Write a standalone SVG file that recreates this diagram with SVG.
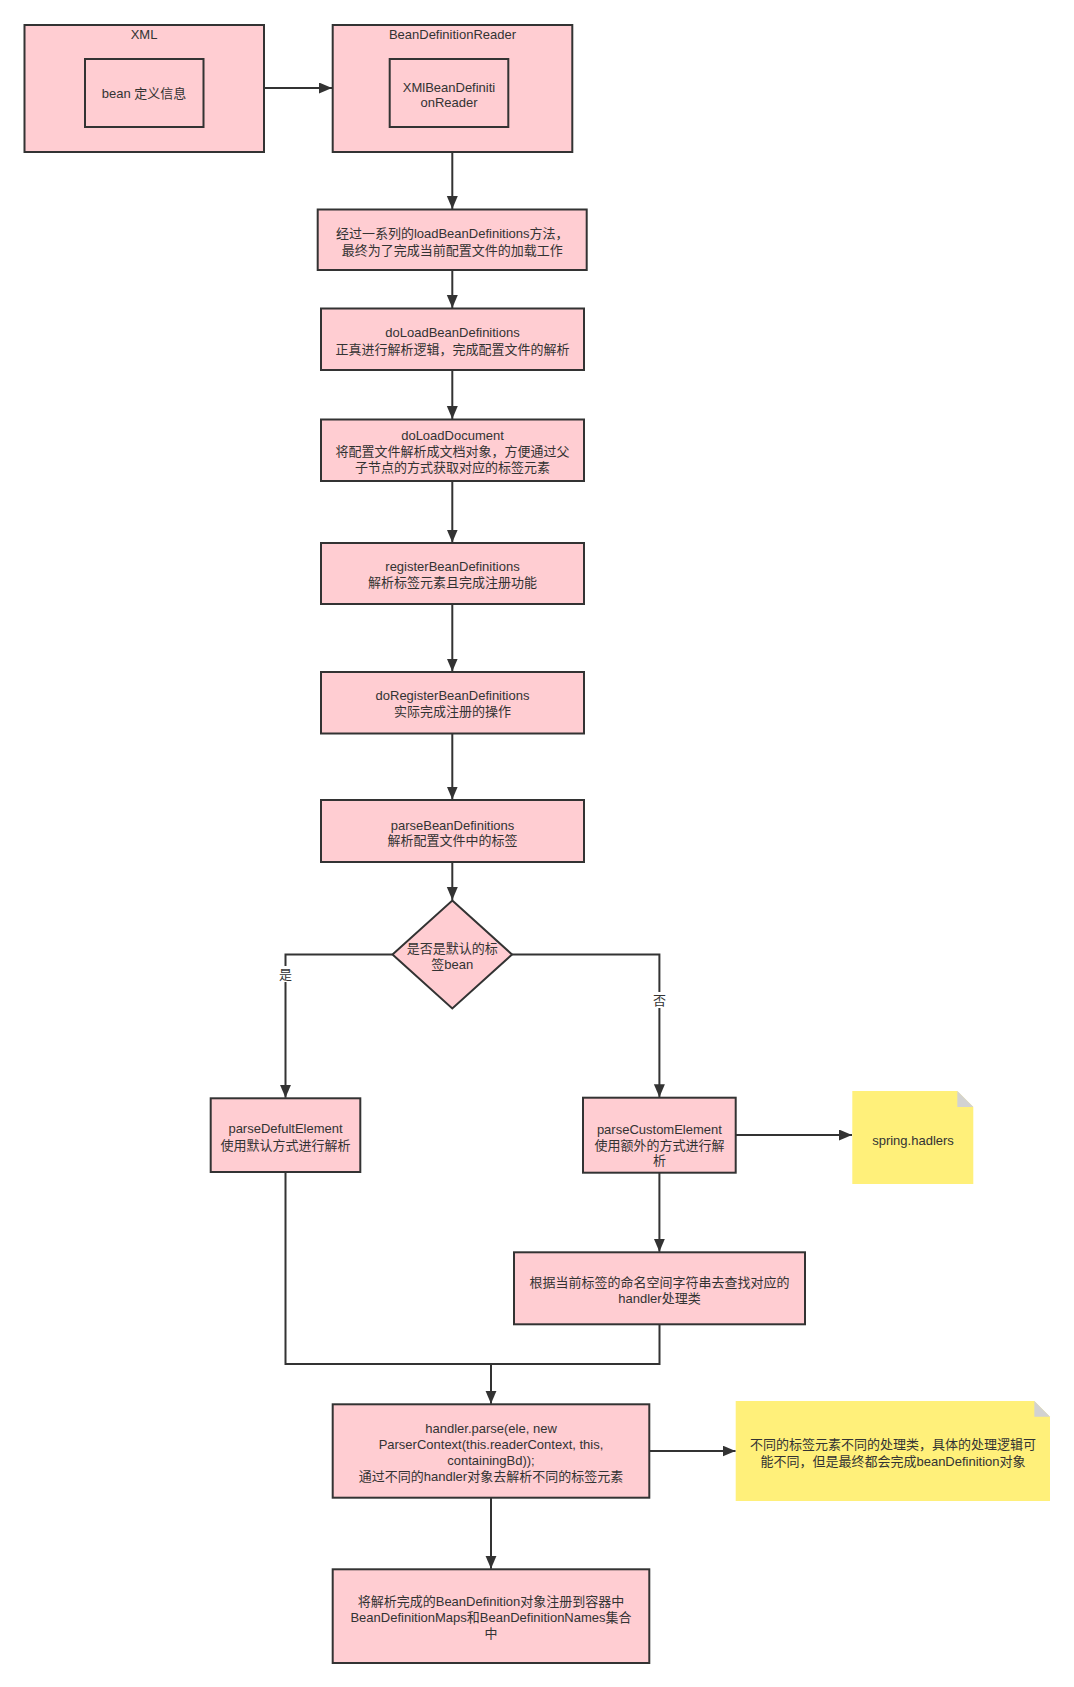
<svg xmlns="http://www.w3.org/2000/svg" width="1074" height="1687" viewBox="0 0 1074 1687">
<style>
.box{fill:#ffcdd2;stroke:#333;stroke-width:2}
.note{fill:#fff07a;stroke:none}
.fold{fill:#d2d2d2;stroke:none}
.t{font-family:"Liberation Sans","Noto Sans CJK SC",sans-serif;font-size:13px;fill:#333;text-anchor:middle}
.ln{fill:none;stroke:#333;stroke-width:2}
.lbl{fill:#fff}
</style>
<defs>
<marker id="ah" markerUnits="userSpaceOnUse" markerWidth="14" markerHeight="12" refX="13" refY="5.5" orient="auto">
<path d="M0,0 L13,5.5 L0,11 Z" fill="#333"/>
</marker>
</defs>
<rect width="1074" height="1687" fill="#fff"/>

<g id="xml">
<rect class="box" x="24.5" y="25" width="239.5" height="127"/>
<text class="t" x="144" y="38.8">XML</text>
</g>
<g id="bean">
<rect class="box" x="85" y="59" width="118.5" height="68"/>
<text class="t" x="144" y="97.5">bean 定义信息</text>
</g>
<g id="bdr">
<rect class="box" x="332.7" y="25" width="239.6" height="127"/>
<text class="t" x="452.5" y="38.8">BeanDefinitionReader</text>
</g>
<g id="xmlbdr">
<rect class="box" x="389.7" y="59" width="118.6" height="68"/>
<text class="t" x="449" y="91.8">XMlBeanDefiniti</text>
<text class="t" x="449" y="107.2">onReader</text>
</g>
<g id="load">
<rect class="box" x="317.7" y="209.5" width="269" height="60.5"/>
<text class="t" x="452.2" y="238">经过一系列的loadBeanDefinitions方法，</text>
<text class="t" x="452.2" y="254.5">最终为了完成当前配置文件的加载工作</text>
</g>
<g id="doLoad">
<rect class="box" x="321" y="308.5" width="263" height="61.5"/>
<text class="t" x="452.5" y="337">doLoadBeanDefinitions</text>
<text class="t" x="452.5" y="353.5">正真进行解析逻辑，完成配置文件的解析</text>
</g>
<g id="doLoadDocument">
<rect class="box" x="321" y="419.5" width="263" height="61.5"/>
<text class="t" x="452.5" y="440">doLoadDocument</text>
<text class="t" x="452.5" y="456">将配置文件解析成文档对象，方便通过父</text>
<text class="t" x="452.5" y="472">子节点的方式获取对应的标签元素</text>
</g>
<g id="register">
<rect class="box" x="321" y="543" width="263" height="61"/>
<text class="t" x="452.5" y="571">registerBeanDefinitions</text>
<text class="t" x="452.5" y="587">解析标签元素且完成注册功能</text>
</g>
<g id="doRegister">
<rect class="box" x="321" y="672" width="263" height="61.5"/>
<text class="t" x="452.5" y="700">doRegisterBeanDefinitions</text>
<text class="t" x="452.5" y="716">实际完成注册的操作</text>
</g>
<g id="parseBD">
<rect class="box" x="321" y="800" width="263" height="62"/>
<text class="t" x="452.5" y="829.5">parseBeanDefinitions</text>
<text class="t" x="452.5" y="845">解析配置文件中的标签</text>
</g>
<g id="decision">
<polygon class="box" points="452.3,900.5 512,954.5 452.3,1008.5 392.5,954.5"/>
<text class="t" x="452.3" y="952.8">是否是默认的标</text>
<text class="t" x="452.3" y="968.8">签bean</text>
</g>
<g id="parseDefult">
<rect class="box" x="210.7" y="1098.3" width="149.6" height="73.7"/>
<text class="t" x="285.5" y="1133">parseDefultElement</text>
<text class="t" x="285.5" y="1149.5">使用默认方式进行解析</text>
</g>
<g id="parseCustom">
<rect class="box" x="583" y="1097.7" width="152.7" height="75"/>
<text class="t" x="659.4" y="1133.5">parseCustomElement</text>
<text class="t" x="659.4" y="1149.5">使用额外的方式进行解</text>
<text class="t" x="659.4" y="1165">析</text>
</g>
<g id="springNote">
<path class="note" d="M852.3,1091 H957.3 L973.3,1107 V1184 H852.3 Z"/>
<path class="fold" d="M957.3,1091 L957.3,1107 L973.3,1107 Z"/>
<text class="t" x="913" y="1144.5">spring.hadlers</text>
</g>
<g id="findHandler">
<rect class="box" x="514" y="1252.3" width="291" height="72"/>
<text class="t" x="659.5" y="1286.5">根据当前标签的命名空间字符串去查找对应的</text>
<text class="t" x="659.5" y="1302.5">handler处理类</text>
</g>
<g id="handlerParse">
<rect class="box" x="332.7" y="1404.3" width="316.6" height="93.4"/>
<text class="t" x="491" y="1433">handler.parse(ele, new</text>
<text class="t" x="491" y="1449">ParserContext(this.readerContext, this,</text>
<text class="t" x="491" y="1465">containingBd));</text>
<text class="t" x="491" y="1481">通过不同的handler对象去解析不同的标签元素</text>
</g>
<g id="note2">
<path class="note" d="M735.7,1401 H1034.3 L1050,1416.7 V1501 H735.7 Z"/>
<path class="fold" d="M1034.3,1401 L1034.3,1416.7 L1050,1416.7 Z"/>
<text class="t" x="893" y="1448.8">不同的标签元素不同的处理类，具体的处理逻辑可</text>
<text class="t" x="893" y="1466">能不同，但是最终都会完成beanDefinition对象</text>
</g>
<g id="register2">
<rect class="box" x="332.7" y="1569.3" width="316.6" height="93.7"/>
<text class="t" x="491" y="1606">将解析完成的BeanDefinition对象注册到容器中</text>
<text class="t" x="491" y="1622">BeanDefinitionMaps和BeanDefinitionNames集合</text>
<text class="t" x="491" y="1638">中</text>
</g>

<g id="connectors">
<path class="ln" d="M264,88 H332" marker-end="url(#ah)"/>
<path class="ln" d="M452.3,152 V209" marker-end="url(#ah)"/>
<path class="ln" d="M452.3,270 V308" marker-end="url(#ah)"/>
<path class="ln" d="M452.3,370 V419" marker-end="url(#ah)"/>
<path class="ln" d="M452.3,481 V542.5" marker-end="url(#ah)"/>
<path class="ln" d="M452.3,604 V671.5" marker-end="url(#ah)"/>
<path class="ln" d="M452.3,733.5 V799.5" marker-end="url(#ah)"/>
<path class="ln" d="M452.3,862 V900" marker-end="url(#ah)"/>
<path class="ln" d="M392.5,954.5 H285.5 V1097.8" marker-end="url(#ah)"/>
<path class="ln" d="M512,954.5 H659.4 V1097.2" marker-end="url(#ah)"/>
<path class="ln" d="M735.7,1135 H852" marker-end="url(#ah)"/>
<path class="ln" d="M659.4,1172.7 V1251.8" marker-end="url(#ah)"/>
<path class="ln" d="M285.5,1172 V1364 H491 V1403.8" marker-end="url(#ah)"/>
<path class="ln" d="M659.5,1324.3 V1364 H491"/>
<path class="ln" d="M649.3,1451 H735.5" marker-end="url(#ah)"/>
<path class="ln" d="M491,1497.7 V1568.8" marker-end="url(#ah)"/>
<rect class="lbl" x="278" y="966" width="15" height="16"/>
<text class="t" x="285.5" y="978.8">是</text>
<rect class="lbl" x="652" y="992" width="15" height="16"/>
<text class="t" x="659.4" y="1004.5">否</text>
</g>
</svg>
